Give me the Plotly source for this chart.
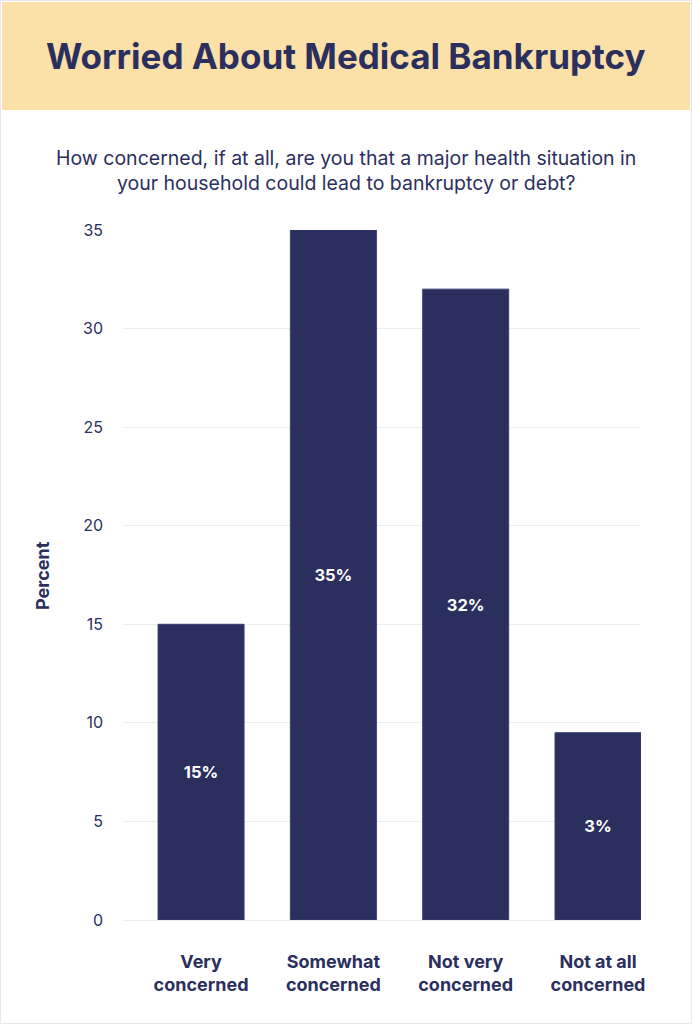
import plotly.graph_objects as go

# survey answers and bar heights as drawn in the source graphic
categories = ["Very<br>concerned", "Somewhat<br>concerned", "Not very<br>concerned", "Not at all<br>concerned"]
values = [15, 35, 32, 9.5]
value_labels = ["15%", "35%", "32%", "3%"]
y_ticks = [0, 5, 10, 15, 20, 25, 30, 35]

NAVY = "#2B2F5E"
W, H = 692, 1024
L, R, T, B = 123, 51, 230, 104
plot_w = W - L - R
plot_h = H - T - B


def px_x(x):
    return (x - L) / plot_w


def px_y(y):
    return (H - B - y) / plot_h


fig = go.Figure()
fig.add_trace(go.Bar(
    x=list(range(len(categories))),
    y=values,
    text=value_labels,
    textposition="inside",
    insidetextanchor="middle",
    textfont=dict(family="Inter", size=16.5, color="white", weight=700),
    marker=dict(color=NAVY, line=dict(color="#3A3F70", width=1)),
    width=0.65,
    hoverinfo="skip",
))

# header band + outer frame
fig.add_shape(type="rect", xref="paper", yref="paper",
              x0=px_x(2), x1=px_x(690), y0=px_y(110), y1=px_y(2),
              fillcolor="#FBE0A8", line=dict(width=0), layer="below")
fig.add_shape(type="rect", xref="paper", yref="paper",
              x0=px_x(0.5), x1=px_x(691.5), y0=px_y(1023.5), y1=px_y(0.5),
              fillcolor="rgba(0,0,0,0)", line=dict(color="#E4E7EC", width=1))

fig.add_annotation(text="<b>Worried About Medical Bankruptcy</b>",
                   xref="paper", yref="paper", x=px_x(346), y=px_y(56),
                   showarrow=False, xanchor="center", yanchor="middle",
                   font=dict(family="Inter", size=35, color=NAVY))
fig.add_annotation(text="How concerned, if at all, are you that a major health situation in<br>your household could lead to bankruptcy or debt?",
                   xref="paper", yref="paper", x=px_x(346), y=px_y(170),
                   showarrow=False, xanchor="center", yanchor="middle", align="center",
                   font=dict(family="Inter", size=19.5, color=NAVY))
fig.add_annotation(text="<b>Percent</b>", textangle=-90,
                   xref="paper", yref="paper", x=px_x(42), y=px_y(576),
                   showarrow=False, xanchor="center", yanchor="middle",
                   font=dict(family="Inter", size=18, color=NAVY))

fig.update_layout(
    width=W, height=H,
    margin=dict(l=L, r=R, t=T, b=B),
    paper_bgcolor="white", plot_bgcolor="white",
    showlegend=False,
    bargap=0.35,
)
fig.update_xaxes(
    range=[-0.59, 3.325],
    tickvals=list(range(len(categories))),
    ticktext=["<b>" + c + "</b>" for c in categories],
    tickfont=dict(family="Inter", size=18, color=NAVY),
    ticklabelstandoff=29,
    showgrid=False, zeroline=False, showline=False, ticks="",
)
fig.update_yaxes(
    range=[0, 35],
    tickvals=y_ticks,
    tickfont=dict(family="Inter", size=16, color=NAVY),
    ticklabelstandoff=19,
    gridcolor="#E8EEF3", gridwidth=1,
    zeroline=True, zerolinecolor="#E8EEF3", zerolinewidth=1,
    showline=False, ticks="",
)

fig.write_html("out.html", config={"displayModeBar": False},
               post_script="document.body.style.margin='0';")
